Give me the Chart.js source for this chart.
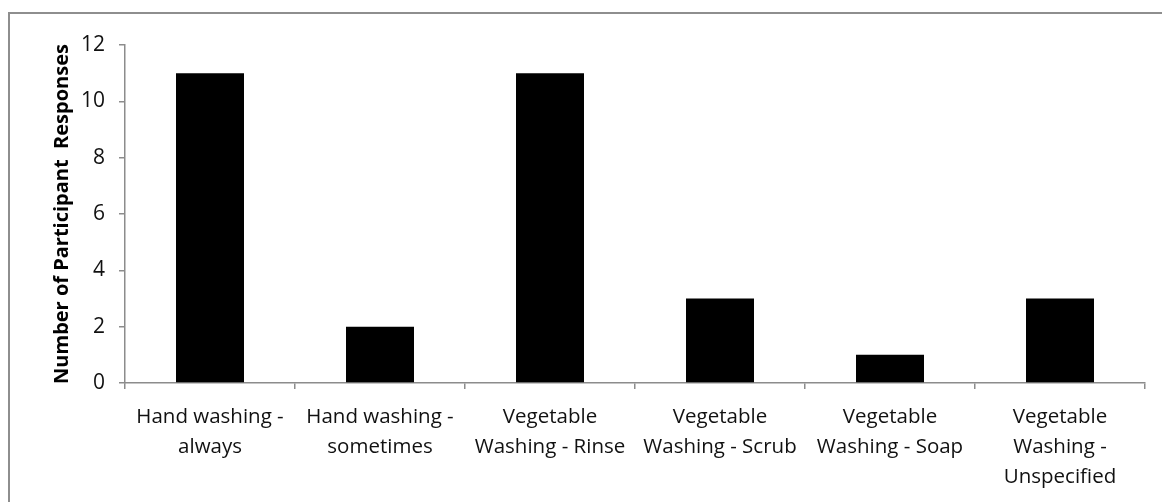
<!DOCTYPE html>
<html>
<head>
<meta charset="utf-8">
<script src="https://cdn.jsdelivr.net/npm/chart.js@4"></script>
<style>
  html, body { margin: 0; padding: 0; background: #fff; }
  #wrap { position: relative; width: 1162px; height: 502px; overflow: hidden; }
  #frame { position: absolute; left: 8px; top: 12px; width: 1200px; height: 600px;
           border-top: 2px solid #8e8e8e; border-left: 2px solid #8e8e8e; }
  canvas { position: absolute; left: 0; top: 0; }
</style>
</head>
<body>
<div id="wrap">
  <div id="frame"></div>
  <canvas id="chart" width="1162" height="502"></canvas>
</div>
<script>
const categories = [
    ['Hand washing -', 'always'],
    ['Hand washing -', 'sometimes'],
    ['Vegetable', 'Washing - Rinse'],
    ['Vegetable', 'Washing - Scrub'],
    ['Vegetable', 'Washing - Soap'],
    ['Vegetable', 'Washing -', 'Unspecified']
];
const responses = [11, 2, 11, 3, 1, 3];
const yTicks = [0, 2, 4, 6, 8, 10, 12];
const yTitle = 'Number of Participant  Responses';

const axisGray = '#8c8c8c';

new Chart(document.getElementById('chart'), {
    type: 'bar',
    data: {
        labels: categories,
        datasets: [{
            data: responses,
            backgroundColor: '#000000',
            borderWidth: 0,
            barPercentage: 0.4,
            categoryPercentage: 1.0
        }]
    },
    options: {
        responsive: false,
        animation: false,
        layout: { padding: { left: 42, top: 45, right: 17, bottom: 0 } },
        plugins: {
            legend: { display: false },
            tooltip: { enabled: false }
        },
        scales: {
            x: {
                afterFit: (s) => { s.height = 119; },
                border: { color: axisGray, width: 1.5 },
                grid: { drawOnChartArea: false, offset: true, tickLength: 6, color: axisGray, lineWidth: 1.5 },
                ticks: {
                    color: '#111',
                    padding: 13,
                    maxRotation: 0,
                    autoSkip: false,
                    font: { family: 'Open Sans', size: 20.5, lineHeight: 1.46 }
                }
            },
            y: {
                min: yTicks[0],
                max: yTicks[yTicks.length - 1],
                afterFit: (s) => { s.width = 83; },
                afterBuildTicks: (s) => { s.ticks = yTicks.map(v => ({ value: v })); },
                border: { color: axisGray, width: 1.5 },
                grid: { drawOnChartArea: false, tickLength: 6, color: axisGray, lineWidth: 1.5 },
                ticks: {
                    color: '#111',
                    padding: 14,
                    font: { family: 'Open Sans', size: 21 }
                },
                title: {
                    display: true,
                    text: yTitle,
                    color: '#000',
                    padding: { top: 8, bottom: 0 },
                    font: { family: 'Open Sans', size: 20, weight: 'bold' }
                }
            }
        }
    }
});
</script>
</body>
</html>
